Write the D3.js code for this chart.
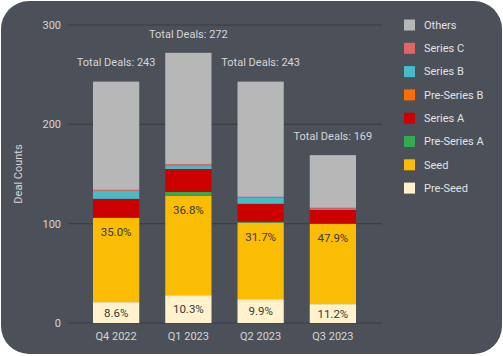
<!DOCTYPE html>
<html><head><meta charset="utf-8">
<script src="https://cdn.jsdelivr.net/npm/d3@7"></script>
<style>
html,body{margin:0;padding:0;background:#ffffff;}
svg{display:block;font-family:Roboto,"Noto Sans",sans-serif;}
</style></head>
<body>
<svg id="chart" width="503" height="356"></svg>
<script>
const quarters = ["Q4 2022","Q1 2023","Q2 2023","Q3 2023"];
const preSeed    = [21, 28, 24, 19];
const seed       = [85, 100, 77, 81];
const preSeriesA = [0, 4, 1, 0];
const seriesA    = [19, 23, 18, 14];
const preSeriesB = [0, 0, 0, 0];
const seriesB    = [8, 3, 6, 1];
const seriesC    = [1, 2, 1, 1];
const others     = [109, 112, 116, 53];
const yTicks = [0, 100, 200, 300];

const seriesNames = ["Pre-Seed","Seed","Pre-Series A","Series A","Pre-Series B","Series B","Series C","Others"];
const seriesVals = [preSeed, seed, preSeriesA, seriesA, preSeriesB, seriesB, seriesC, others];
const colors = ["#fff2cc","#fbbc04","#34a853","#cc0000","#ff6d01","#46bdc6","#e06666","#b7b7b7"];

const rows = quarters.map((q,i)=>{
  const r = {q};
  seriesNames.forEach((s,j)=>{ r[s] = seriesVals[j][i]; });
  r.total = d3.sum(seriesVals, v=>v[i]);
  return r;
});

const svg = d3.select("#chart");
svg.append("rect").attr("x",1).attr("y",1).attr("width",501).attr("height",353)
  .attr("rx",28).attr("ry",28).attr("fill","#4b5059");

const x = d3.scaleBand().domain(quarters).range([80,369]).paddingInner(0.36).paddingOuter(0.18);
const y = d3.scaleLinear().domain([0,300]).range([323,25]);
const color = d3.scaleOrdinal().domain(seriesNames).range(colors);

// gridlines
svg.append("g").selectAll("line").data(yTicks).join("line")
  .attr("x1",68).attr("x2",382)
  .attr("y1",d=>y(d)).attr("y2",d=>y(d))
  .attr("stroke","#3b3f46").attr("stroke-width",1.2);

// y tick labels
svg.append("g").selectAll("text").data(yTicks).join("text")
  .attr("x",61).attr("y",d=>y(d)).attr("dy","0.35em")
  .attr("text-anchor","end").attr("font-size",11).attr("fill","#d6d6d6")
  .text(d=>d);

// y title
svg.append("text").attr("transform",`translate(18,${(y(0)+y(300))/2}) rotate(-90)`)
  .attr("text-anchor","middle").attr("dy","0.35em").attr("font-size",11).attr("fill","#d6d6d6")
  .text("Deal Counts");

// stacks
const stack = d3.stack().keys(seriesNames)(rows);
svg.append("g").selectAll("g").data(stack).join("g")
  .attr("fill",d=>color(d.key))
  .selectAll("rect").data(d=>d).join("rect")
  .attr("x",d=>x(d.data.q)).attr("width",x.bandwidth())
  .attr("y",d=>y(d[1])).attr("height",d=>y(d[0])-y(d[1]));

// x labels
svg.append("g").selectAll("text").data(quarters).join("text")
  .attr("x",d=>x(d)+x.bandwidth()/2).attr("y",336).attr("dy","0.35em")
  .attr("text-anchor","middle").attr("font-size",11).attr("fill","#d6d6d6")
  .text(d=>d);

// totals
svg.append("g").selectAll("text").data(rows).join("text")
  .attr("x",d=>x(d.q)+x.bandwidth()/2).attr("y",d=>y(d.total)-19).attr("dy","0.35em")
  .attr("text-anchor","middle").attr("font-size",11).attr("fill","#d6d6d6")
  .text(d=>"Total Deals: "+d.total);

// seed percentages
const seedLayer = stack[1];
svg.append("g").selectAll("text").data(seedLayer).join("text")
  .attr("x",d=>x(d.data.q)+x.bandwidth()/2).attr("y",d=>y(d[1])+14).attr("dy","0.35em")
  .attr("text-anchor","middle").attr("font-size",11.5).attr("fill","#3a3a3a")
  .text(d=>(d.data["Seed"]/d.data.total*100).toFixed(1)+"%");

// pre-seed percentages
const psLayer = stack[0];
svg.append("g").selectAll("text").data(psLayer).join("text")
  .attr("x",d=>x(d.data.q)+x.bandwidth()/2).attr("y",d=>(y(d[0])+y(d[1]))/2).attr("dy","0.35em")
  .attr("text-anchor","middle").attr("font-size",11.5).attr("fill","#3a3a3a")
  .text(d=>(d.data["Pre-Seed"]/d.data.total*100).toFixed(1)+"%");

// legend
const legendOrder = seriesNames.slice().reverse();
const lg = svg.append("g").selectAll("g").data(legendOrder).join("g")
  .attr("transform",(d,i)=>`translate(404,${25+i*23.3})`);
lg.append("rect").attr("x",0).attr("y",-5.5).attr("width",11).attr("height",11).attr("fill",d=>color(d));
lg.append("text").attr("x",20).attr("y",0).attr("dy","0.35em")
  .attr("font-size",11).attr("fill","#e2e2e2").text(d=>d);
</script>
</body></html>
